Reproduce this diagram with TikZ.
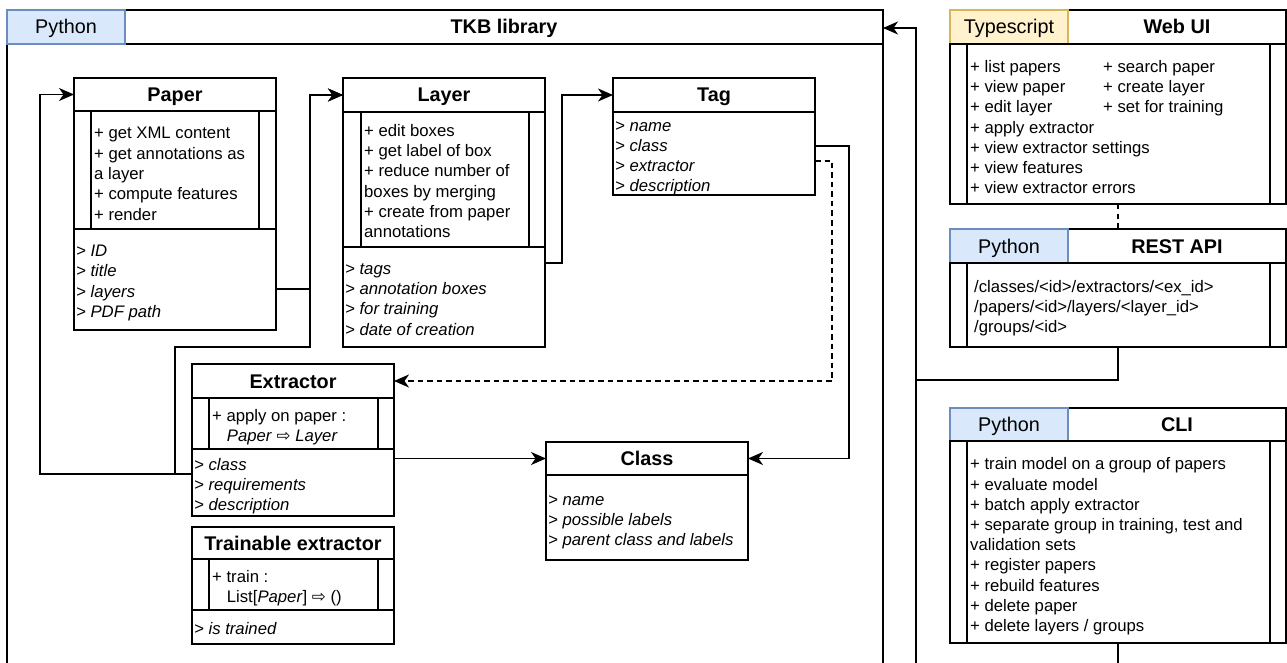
\documentclass[tikz,border=0pt]{standalone}
\usepackage{fontspec}
\setmainfont{Liberation Sans}
\newfontfamily\arrowfont{DejaVu Sans}
\usetikzlibrary{arrows.meta,calc}
\definecolor{pyfill}{HTML}{DAE8FC}
\definecolor{pyline}{HTML}{6C8EBF}
\definecolor{tsfill}{HTML}{FFF2CC}
\definecolor{tsline}{HTML}{D6B656}
\newcommand\bodyf{\fontsize{16.7}{20}\selectfont}
\newcommand\titlef{\fontsize{19.8}{24}\selectfont}
\tikzset{
  ln/.style={line width=1.4pt, draw=black},
  box/.style={ln, fill=white, inner sep=0pt, outer sep=0pt, anchor=north west},
  tt/.style={anchor=base, inner sep=0pt, font=\titlef\bfseries},
  hd/.style={anchor=base, inner sep=0pt, font=\titlef},
  tx/.style={anchor=base west, inner sep=0pt, font=\bodyf},
  itx/.style={anchor=base west, inner sep=0pt, font=\bodyf\itshape},
  arr/.style={ln, -{Stealth[length=15pt,width=13pt,inset=4.5pt]}},
  dsh/.style={dash pattern=on 5.5pt off 4pt},
  pyc/.style={box, fill=pyfill, draw=pyline},
  tsc/.style={box, fill=tsfill, draw=tsline},
}
% #1 name, #2 x, #3 y, #4 width, #5 height
\newcommand\cbox[5]{\node[box, minimum width=#4pt, minimum height=#5pt] (#1) at (#2,#3) {};}
% side bars inside a compartment
\newcommand\sidebars[3]{%
  \draw[ln] ($(#1.north west)+(#2,0)$) -- ($(#1.south west)+(#2,0)$);
  \draw[ln] ($(#1.north east)+(-#3,0)$) -- ($(#1.south east)+(-#3,0)$);}
% #1 style, #2 name prefix, #3 x, #4 first baseline, #5 step, #6 list
\newcommand\rows[6]{\foreach \t [count=\i from 0] in {#6} {\node[#1] (#2\i) at (#3, {#4+#5*\i}) {\t};}}
\begin{document}
\begin{tikzpicture}[x=1pt,y=-1pt]
\useasboundingbox (0,0) rectangle (1287,663);

% ---------- TKB library container ----------
\cbox{tkb}{7}{10}{876}{700}
\cbox{tkbH}{7}{10}{876}{34}
\node[pyc, minimum width=118pt, minimum height=34pt] (tkbPy) at (7,10) {};
\node[hd] (tkbPyT) at (66,34) {Python};
\node[tt] (tkbT) at (504,34) {TKB library};

% ---------- Paper ----------
\cbox{paperH}{74}{78}{202}{33}
\cbox{paperM}{74}{111}{202}{118}
\cbox{paperA}{74}{229}{202}{101}
\sidebars{paperM}{17}{17}
\node[tt] (paperT) at (175,101.5) {Paper};
\rows{tx}{paperm}{94}{139}{20.3}{+ get XML content,+ get annotations as,a layer,+ compute features,+ render}
\rows{itx}{papera}{76}{256.5}{20.3}{> ID,> title,> layers,> PDF path}

% ---------- Layer ----------
\cbox{layerH}{343}{78}{202}{34}
\cbox{layerM}{343}{112}{202}{135}
\cbox{layerA}{343}{247}{202}{100}
\sidebars{layerM}{18}{16}
\node[tt] (layerT) at (444,101.5) {Layer};
\rows{tx}{layerm}{364}{136.5}{20.2}{+ edit boxes,+ get label of box,+ reduce number of,boxes by merging,+ create from paper,annotations}
\rows{itx}{layera}{345}{274.5}{20.2}{> tags,> annotation boxes,> for training,> date of creation}

% ---------- Tag ----------
\cbox{tagH}{613}{78}{202}{34}
\cbox{tagA}{613}{112}{202}{83}
\node[tt] (tagT) at (714,101.5) {Tag};
\rows{itx}{taga}{615}{131.5}{20}{> name,> class,> extractor,> description}

% ---------- Extractor ----------
\cbox{extH}{192}{364}{202}{34}
\cbox{extM}{192}{398}{202}{51}
\cbox{extA}{192}{449}{202}{67}
\sidebars{extM}{17}{16}
\node[tt] (extT) at (293,388) {Extractor};
\node[tx] (extm0) at (212,421.5) {+ apply on paper :};
\node[tx] (extm1) at (226.7,441.5) {\textit{Paper} {\arrowfont ⇨} \textit{Layer}};
\rows{itx}{exta}{194}{470.5}{20}{> class,> requirements,> description}

% ---------- Trainable extractor ----------
\cbox{trH}{192}{527}{202}{32}
\cbox{trM}{192}{559}{202}{51}
\cbox{trA}{192}{610}{202}{34}
\sidebars{trM}{17}{16}
\node[tt] (trT) at (293,550) {Trainable extractor};
\node[tx] (trm0) at (212,582.5) {+ train :};
\node[tx] (trm1) at (226.7,602.5) {List[\textit{Paper}] {\arrowfont ⇨} ()};
\node[itx] (tra0) at (194,634.5) {> is trained};

% ---------- Class ----------
\cbox{classH}{546}{442}{202}{33}
\cbox{classA}{546}{475}{202}{85}
\node[tt] (classT) at (647,465.5) {Class};
\rows{itx}{classa}{548}{505.5}{20}{> name,> possible labels,> parent class and labels}

% ---------- Web UI ----------
\cbox{webH}{950}{10}{336}{34}
\node[tsc, minimum width=118pt, minimum height=34pt] (webTs) at (950,10) {};
\node[hd] (webTsT) at (1009,34) {Typescript};
\node[tt] (webT) at (1177,34) {Web UI};
\cbox{webB}{950}{44}{336}{160}
\sidebars{webB}{17}{16}
\rows{tx}{webl}{970}{72.5}{20.2}{+ list papers,+ view paper,+ edit layer,+ apply extractor,+ view extractor settings,+ view features,+ view extractor errors}
\rows{tx}{webr}{1103}{72.5}{20.2}{+ search paper,+ create layer,+ set for training}

% ---------- REST API ----------
\cbox{restH}{950}{229}{336}{34}
\node[pyc, minimum width=118pt, minimum height=34pt] (restPy) at (950,229) {};
\node[hd] (restPyT) at (1009,253) {Python};
\node[tt] (restT) at (1177,253) {REST API};
\cbox{restB}{950}{263}{336}{84}
\sidebars{restB}{17}{16}
\rows{tx}{restl}{974}{292.5}{20}{/classes/<id>/extractors/<ex\_id>,/papers/<id>/layers/<layer\_id>,/groups/<id>}

% ---------- CLI ----------
\cbox{cliH}{950}{408}{336}{33}
\node[pyc, minimum width=118pt, minimum height=33pt] (cliPy) at (950,408) {};
\node[hd] (cliPyT) at (1009,431.5) {Python};
\node[tt] (cliT) at (1177,431.5) {CLI};
\cbox{cliB}{950}{441}{336}{202}
\sidebars{cliB}{17}{16}
\rows{tx}{clil}{970}{469.8}{20.2}{+ train model on a group of papers,+ evaluate model,+ batch apply extractor,{+ separate group in training, test and},validation sets,+ register papers,+ rebuild features,+ delete paper,+ delete layers / groups}

% ---------- connectors ----------
\draw[arr] ($(extA.north west)+(0,25)$) -| ($(paperH.west)+(-34,0)$) -- (paperH.west);
\draw[arr] ($(extA.north west)+(0,25)$) -- ++(-17,0) |- ($(layerA.south west)+(-33,0)$) |- (layerH.west);
\draw[arr] ($(paperA.north east)+(0,60)$) -| ($(layerH.west)+(-33,0)$) -- (layerH.west);
\draw[arr] ($(layerA.north east)+(0,16)$) -| ($(tagH.west)+(-51,0)$) -- (tagH.west);
\draw[arr] ($(tagA.north east)+(0,34)$) -| ($(classH.east)+(101,0)$) -- (classH.east);
\draw[arr, dsh] ($(tagA.north east)+(0,49)$) -| ($(extH.east)+(438,0)$) -- (extH.east);
\draw[arr] ($(extA.north east)+(0,9.5)$) -- (classH.west);
\draw[ln, dsh] (webB.south) -- (restH.north);
\draw[arr] (restB.south) -- ++(0,33) -| ($(tkb.north east)+(33,18)$) -- ($(tkb.north east)+(0,18)$);
\draw[ln] (cliB.south) -- ++(0,40) -| ($(tkb.north east)+(33,370)$);
\end{tikzpicture}
\end{document}
